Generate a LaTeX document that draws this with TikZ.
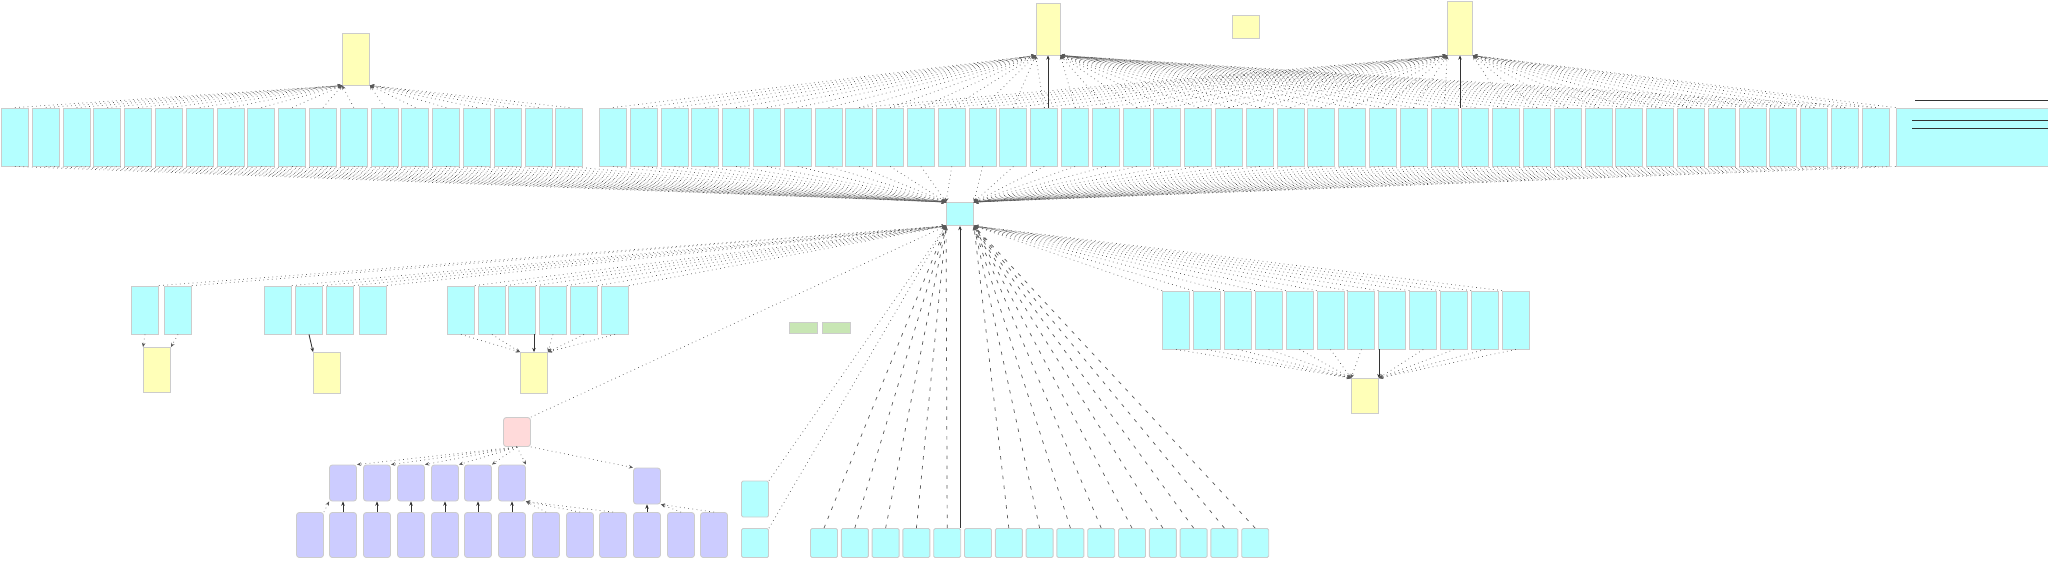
\documentclass[tikz,border=0pt]{standalone}
\usetikzlibrary{arrows.meta,calc}
\definecolor{clsfill}{HTML}{B4FFFF}
\definecolor{notefill}{HTML}{FFFFB8}
\definecolor{pkgfill}{HTML}{CCCCFF}
\definecolor{rootfill}{HTML}{FFDADA}
\definecolor{leaffill}{HTML}{C8E6B4}
\tikzset{
  box/.style={draw=gray!40, line width=0.25pt, inner sep=0pt, minimum width=2.7mm},
  clsbox/.style={box, fill=clsfill, minimum height=5.8mm},
  lowbox/.style={box, fill=clsfill, minimum height=4.8mm},
  botbox/.style={box, fill=clsfill, rounded corners=0.4pt, minimum height=2.9mm},
  notebox/.style={box, fill=notefill},
  pkgbox/.style={box, fill=pkgfill, rounded corners=0.8pt},
  lnk/.style={densely dotted, draw=black!65, line width=0.2pt, -{Stealth[length=1.2pt,width=1pt]}},
  dlnk/.style={dash pattern=on 1pt off 1.8pt, draw=black!65, line width=0.2pt, -{Stealth[length=1.2pt,width=1pt]}},
  slnk/.style={draw=black!80, line width=0.25pt, -{Stealth[length=1.2pt,width=1pt]}}
}
\begin{document}
\begin{tikzpicture}[x=0.1mm,y=-0.1mm]
  \useasboundingbox (0,0) rectangle (2048,561);
  %
  % notes on top
  \node[notebox, minimum height=5.2mm] (ytl) at (356,59) {};
  \node[notebox, minimum width=2.4mm, minimum height=5.2mm] (ytm) at (1048,29) {};
  \node[notebox, minimum height=2.3mm] (ysm) at (1246,27) {};
  \node[notebox, minimum width=2.5mm, minimum height=5.4mm] (ytr) at (1460,28) {};
  %
  % top row
  \foreach \i in {0,...,18}
    \node[clsbox] (tl\i) at ({15+\i*30.8},137) {};
  \foreach \i in {0,...,41}
    \node[clsbox] (tr\i) at ({613+\i*30.8},137) {};
  \node[clsbox, minimum width=15.2mm] (trw) at (1972,137) {};
  %
  % hub
  \node[box, fill=clsfill, minimum height=2.3mm] (hub) at (960,214) {};
  %
  % second level
  \foreach \x [count=\i from 0] in {145,178}
    \node[lowbox] (a\i) at (\x,310) {};
  \foreach \x [count=\i from 0] in {278,309,340,373}
    \node[lowbox] (b\i) at (\x,310) {};
  \foreach \x [count=\i from 0] in {461,492,522,553,584,615}
    \node[lowbox] (c\i) at (\x,310) {};
  \foreach \i in {0,...,11}
    \node[clsbox] (d\i) at ({1176+\i*30.9},320) {};
  \node[notebox, minimum height=4.5mm] (ya) at (157,370) {};
  \node[notebox, minimum height=4.1mm] (yb) at (327,373) {};
  \node[notebox, minimum height=4.1mm] (yc) at (534,373) {};
  \node[notebox, minimum height=3.5mm] (yd) at (1365,396) {};
  \node[box, fill=leaffill, minimum width=2.8mm, minimum height=1.1mm] (g0) at (803,328) {};
  \node[box, fill=leaffill, minimum width=2.8mm, minimum height=1.1mm] (g1) at (836,328) {};
  %
  % package tree
  \node[box, fill=rootfill, rounded corners=0.8pt, minimum height=2.9mm] (pk) at (517,432) {};
  \foreach \x [count=\i from 0] in {343,377,411,445,478,512}
    \node[pkgbox, minimum height=3.6mm] (p\i) at (\x,483) {};
  \node[pkgbox, minimum height=3.6mm] (p6) at (647,486) {};
  \foreach \x [count=\i from 0] in {310,343,377,411,445,478,512,546,580,613,647,681,714}
    \node[pkgbox, minimum height=4.5mm] (q\i) at (\x,535) {};
  %
  % bottom row
  \node[botbox, minimum height=3.6mm] (lc0) at (755,499) {};
  \node[botbox] (lc1) at (755,543) {};
  \foreach \i in {0,...,14}
    \node[botbox] (e\i) at ({824+\i*30.8},543) {};
  %
  % links into the hub
  \foreach \i in {0,...,18}
    \draw[lnk] (tl\i.south) -- (hub.north west);
  \foreach \i in {0,...,11}
    \draw[lnk] (tr\i.south) -- (hub.north west);
  \foreach \i in {12,...,41}
    \draw[lnk] (tr\i.south) -- (hub.north east);
  \draw[lnk] (trw.south west) -- (hub.north east);
  \foreach \n in {a0,a1,b0,b1,b2,b3,c0,c1,c2,c3,c4,c5,lc0,lc1,pk}
    \draw[lnk] (\n.north east) -- (hub.south west);
  \foreach \i in {0,...,11}
    \draw[lnk] (d\i.north west) -- (hub.south east);
  \foreach \i in {0,...,4}
    \draw[dlnk] (e\i.north) -- (hub.south west);
  \foreach \i in {6,...,14}
    \draw[dlnk] (e\i.north) -- (hub.south east);
  \draw[slnk] (hub.south |- e5.north) -- (hub.south);
  %
  % links into the notes
  \foreach \i in {0,...,11}
    \draw[lnk] (tl\i.north) -- (ytl.south west);
  \foreach \i in {12,...,18}
    \draw[lnk] (tl\i.north) -- (ytl.south east);
  \foreach \i in {0,...,14}
    \draw[lnk] (tr\i.north) -- (ytm.south west);
  \foreach \i in {15,...,41}
    \draw[lnk] (tr\i.north) -- (ytm.south east);
  \draw[slnk] (ytm.south |- tr14.north) -- (ytm.south);
  \foreach \i in {8,...,27}
    \draw[lnk] (tr\i.north) -- (ytr.south west);
  \foreach \i in {29,...,41}
    \draw[lnk] (tr\i.north) -- (ytr.south east);
  \draw[slnk] (tr28.north -| ytr.south) -- (ytr.south);
  \draw[lnk] (trw.north west) -- (ytr.south east);
  % edges leaving on the right
  \coordinate (r0) at (1915,100);
  \coordinate (r1) at (1912,120);
  \coordinate (r2) at (1912,128);
  \foreach \k in {0,1,2}
    \draw[draw=black!80, line width=0.25pt] (r\k) -- (r\k -| trw.east);
  %
  \draw[lnk] (a0.south) -- (ya.north west);
  \draw[lnk] (a1.south) -- (ya.north east);
  \draw[slnk] (b1.south) -- (yb.north west);
  \foreach \i in {0,1}
    \draw[lnk] (c\i.south) -- (yc.north west);
  \foreach \i in {3,4,5}
    \draw[lnk] (c\i.south) -- (yc.north east);
  \draw[slnk] (yc.north |- c2.south) -- (yc.north);
  \foreach \i in {0,...,6}
    \draw[lnk] (d\i.south) -- (yd.north west);
  \foreach \i in {8,...,11}
    \draw[lnk] (d\i.south) -- (yd.north east);
  \draw[slnk] (yd.north east |- d7.south) -- (yd.north east);
  %
  % package tree links
  \foreach \i in {0,...,5}
    \draw[lnk] (pk.south) -- (p\i.north east);
  \draw[lnk] (pk.south east) -- (p6.north west);
  \draw[lnk] (q0.north east) -- (p0.south west);
  \foreach \i/\j in {1/0,2/1,3/2,4/3,5/4,6/5}
    \draw[slnk] (q\i.north) -- (q\i.north |- p\j.south);
  \foreach \i in {7,8,9}
    \draw[lnk] (q\i.north) -- (p5.south east);
  \draw[slnk] (q10.north) -- (q10.north |- p6.south);
  \foreach \i in {11,12}
    \draw[lnk] (q\i.north) -- (p6.south east);
  %
\end{tikzpicture}
\end{document}
